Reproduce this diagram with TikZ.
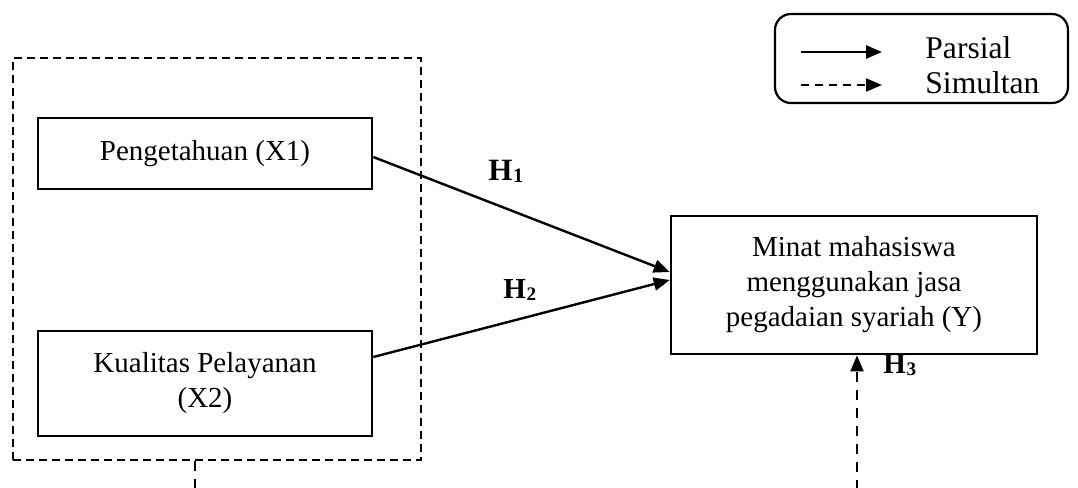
\documentclass[tikz,border=0pt]{standalone}
\usepackage{fontspec}
\setmainfont{Liberation Serif}
\usetikzlibrary{arrows.meta,calc}
\newcommand{\hyp}[2]{\fontsize{#1}{#1}\selectfont\bfseries H\kern0.02em\raisebox{-0.07em}{\fontsize{\dimexpr #1pt*66/100\relax}{10}\selectfont #2}}
\begin{document}
\begin{tikzpicture}[x=0.5pt,y=-0.5pt,
  box/.style={draw,line width=1.3pt,inner sep=0pt,align=center,font=\fontsize{14.5}{17.5}\selectfont},
  solidarrow/.style={line width=1.2pt,-{Triangle[length=8pt,width=6.5pt]}},
  dasharrow/.style={line width=1pt,dash pattern=on 5pt off 4pt,-{Triangle[length=8pt,width=6.5pt]}},
  grp/.style={draw,line width=0.9pt,dash pattern=on 4pt off 2.5pt},
  hlab/.style={anchor=base west,inner sep=0pt},
  legtext/.style={font=\fontsize{15.8}{18}\selectfont,anchor=base west,inner sep=0pt}]
\useasboundingbox (0,0) rectangle (1078,488);
% group
\node[grp,minimum width=204pt,minimum height=201pt,inner sep=0pt] (grp) at (217,259) {};
% boxes
\node[box,minimum width=167pt,minimum height=35.5pt] (x1) at (205,153.5) {Pengetahuan (X1)};
\node[box,minimum width=167pt,minimum height=52.5pt] (x2) at (205,383.5) {Kualitas Pelayanan\\(X2)};
\node[box,minimum width=183pt,minimum height=69pt] (y) at (854,285) {Minat mahasiswa\\menggunakan jasa\\pegadaian syariah (Y)};
% arrows
\draw[solidarrow] ([yshift=-1.75pt]x1.east) -- ([yshift=6.5pt]y.west);
\draw[solidarrow] ([yshift=13.25pt]x2.east) -- ([yshift=2.5pt]y.west);
\coordinate (b1) at (195,490);
\coordinate (b2) at (857,490);
\draw[line width=1pt,dash pattern=on 5pt off 4pt] (grp.south -| b1) -- (b1);
\draw[dasharrow] (b2) -- (y.south -| b2);
% labels
\node[hlab] (h1) at (488,180) {\hyp{15.5}{1}};
\node[hlab] (h2) at (503,298) {\hyp{14.5}{2}};
\node[hlab] (h3) at (883,373) {\hyp{14.5}{3}};
% legend
\node[draw,line width=1.1pt,rounded corners=8pt,minimum width=146.5pt,minimum height=44.5pt,inner sep=0pt] (leg) at (921.5,58.5) {};
\coordinate (ls1) at (801,52);
\coordinate (le1) at (882,52);
\coordinate (ls2) at (801,85);
\coordinate (le2) at (882,85);
\draw[solidarrow,line width=1.3pt] (ls1) -- (le1);
\draw[line width=1.1pt,dash pattern=on 4pt off 3pt,-{Triangle[length=8pt,width=6.5pt]}] (ls2) -- (le2);
\node[legtext] (t1) at (925,58) {Parsial};
\node[legtext] (t2) at (925,93) {Simultan};
\end{tikzpicture}
\end{document}
